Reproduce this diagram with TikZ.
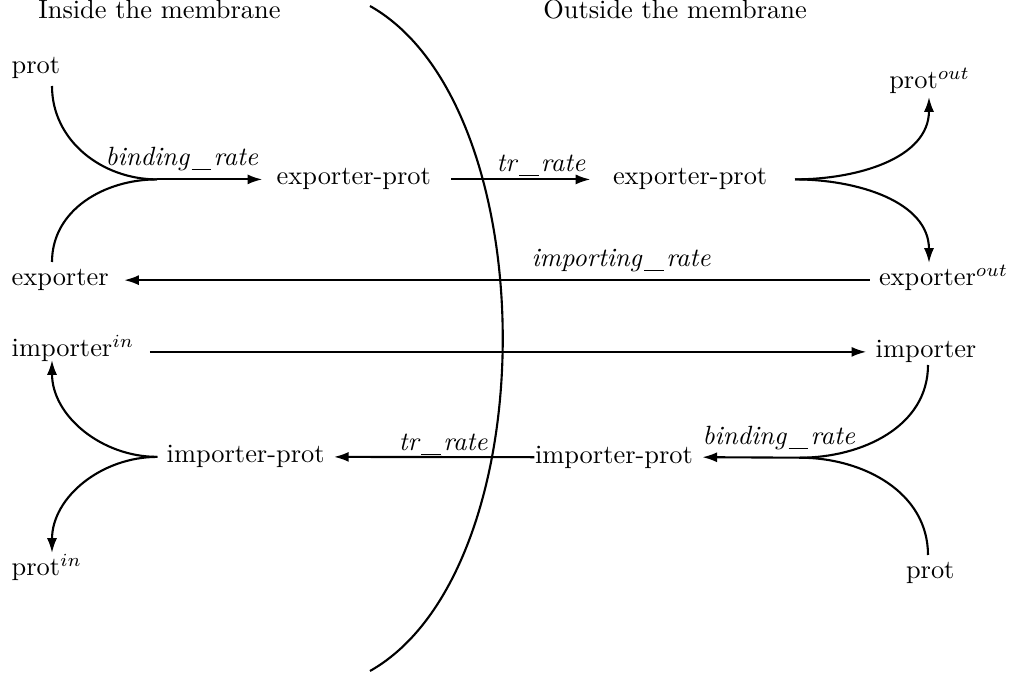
\documentclass[tikz,border=0pt]{standalone}
\usetikzlibrary{arrows.meta}
\newcommand{\uscore}{\kern0.9pt\rule[-1.5pt]{7.5pt}{0.4pt}\kern0.9pt}
\begin{document}
\begin{tikzpicture}[x=0.3788pt,y=-0.3788pt,
  lbl/.style={anchor=text, inner sep=3.333pt},
  rate/.style={font=\itshape, inner sep=0pt},
  conn/.style={thick},
  arr/.style={thick,-{Latex[length=5.6pt,width=3.8pt]}}]
\useasboundingbox (0,0) rectangle (1010,676);
% headers
\node[rate,font=\normalfont,anchor=text] (hin) at (38.3,19) {Inside the membrane};
\node[rate,font=\normalfont,anchor=text] (hout) at (543.3,19) {Outside the membrane};
% membrane
\draw[thick] (370,6) .. controls (547,106) and (547,571) .. (370,671);
% species
\node[lbl] (protI) at (11.7,74) {prot};
\node[lbl] (ex) at (11.7,285.7) {exporter};
\node[lbl] (ii) at (11.7,357) {importer$^{in}$};
\node[lbl] (protIn) at (11.7,576) {prot$^{in}$};
\node[lbl] (ep1) at (276.7,185) {exporter-prot};
\node[lbl] (ep2) at (613,185) {exporter-prot};
\node[lbl] (protOut) at (889.3,89) {prot$^{out}$};
\node[lbl] (eo) at (879,285.7) {exporter$^{out}$};
\node[lbl] (im) at (875.7,358) {importer};
\node[lbl] (ipL) at (166.7,463) {importer-prot};
\node[lbl] (ipR) at (535,463.3) {importer-prot};
\node[lbl] (protO) at (906,579) {prot};
% rate labels
\node[rate,anchor=base west] (br1) at (105,166) {binding\uscore rate};
\node[rate,anchor=base west] (tr1) at (496,172) {tr\uscore rate};
\node[rate,anchor=base west] (ir) at (531,266.7) {importing\uscore rate};
\node[rate,anchor=base east] (tr2) at (488,451) {tr\uscore rate};
\node[rate,anchor=base west] (br2) at (702,445) {binding\uscore rate};
% junctions and free ends
\coordinate (J1) at (157,179.4);
\coordinate (a1) at (52,86);
\coordinate (a2) at (52,262);
\coordinate (J2) at (795,179.4);
\coordinate (pOutTip) at (929,97);
\coordinate (eoTip) at (929,263);
\coordinate (J4) at (800,457.7);
\coordinate (imB) at (928,365);
\coordinate (protOT) at (928,555);
\coordinate (iiTip) at (52,360);
\coordinate (pInTip) at (52,553);
% top left binding
\draw[conn] (a1) to[out=-90,in=180] (J1);
\draw[conn] (a2) to[out=90,in=180] (J1);
\draw[arr,shorten >=1.9pt] (J1) -- (J1 -| ep1.west);
% transport out
\draw[arr,shorten <=4.2pt,shorten >=5pt] (ep1.east) -- (ep2.west);
% unbinding outside
\draw[arr] (J2) to[out=0,in=-90] (pOutTip);
\draw[arr] (J2) to[out=0,in=90] (eoTip);
% exporter back
\draw[arr,shorten >=2.3pt] (ex.east -| eo.west) -- (ex.east);
% importer out
\draw[arr,shorten <=2.4pt] (im.west -| ii.east) -- (im.west);
% binding outside
\draw[conn] (imB) to[out=-90,in=0] (J4);
\draw[conn] (protOT) to[out=90,in=0] (J4);
\draw[arr] (J4) -- (ipR.east);
% transport in
\draw[arr,shorten <=-3.3pt] (ipR.west) -- (ipL.east);
% unbinding inside
\draw[arr] (ipL.west) to[out=180,in=-90] (iiTip);
\draw[arr] (ipL.west) to[out=180,in=90] (pInTip);
\end{tikzpicture}
\end{document}
